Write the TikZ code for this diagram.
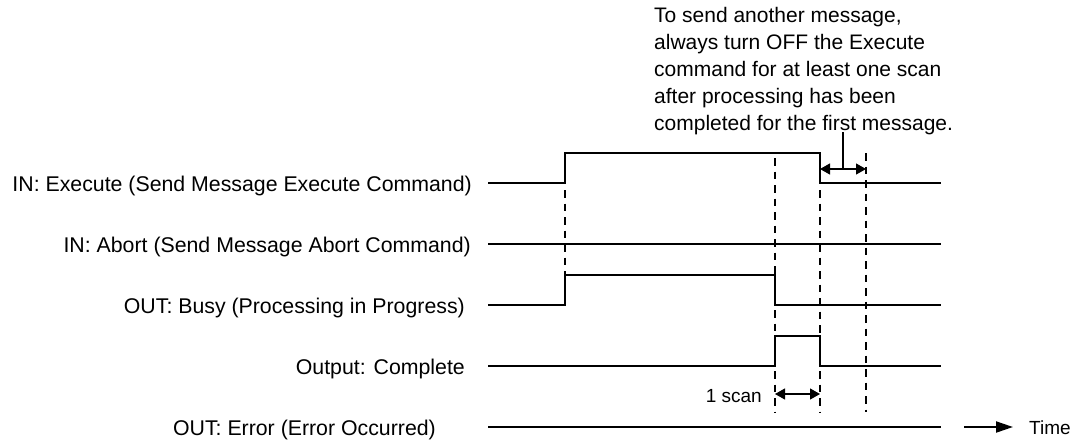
\documentclass[tikz,border=0pt]{standalone}
\usepackage{fontspec}
\setmainfont{Liberation Sans}
\usetikzlibrary{arrows.meta}
\begin{document}
\begin{tikzpicture}[x=1pt,y=-1pt,
  sig/.style={line width=1.2pt, line join=miter},
  guide/.style={line width=1.2pt, dash pattern=on 7.5pt off 6pt},
  lbl/.style={anchor=base east, inner sep=0pt, font=\fontsize{21.3}{26}\selectfont},
  dim/.style={line width=1.2pt, {Triangle[length=10pt,width=11pt]}-{Triangle[length=10pt,width=11pt]}},
  txt/.style={inner sep=0pt, font=\fontsize{21}{27}\selectfont}]
\useasboundingbox (0,0) rectangle (1072,440);

% labels
\node[lbl] (lexe) at (472,191) {IN: Execute (Send Message Execute Command)};
\node[lbl] (labt) at (471,252) {IN: Abort (Send Message Abort Command)};
\node[lbl] (lbsy) at (465,313) {OUT: Busy (Processing in Progress)};
\node[lbl] (lcmp) at (465,374) {Output: Complete};
\node[lbl] (lerr) at (436,435) {OUT: Error (Error Occurred)};

% signals
\draw[sig] (488,183) -- (565,183) -- (565,153) -- (820,153) -- (820,183) -- (941,183);
\draw[sig] (488,244) -- (941,244);
\draw[sig] (488,305) -- (565,305) -- (565,275) -- (775,275) -- (775,305) -- (941,305);
\draw[sig] (488,366) -- (775,366) -- (775,336) -- (820,336) -- (820,366) -- (941,366);
\draw[sig] (488,427) -- (941,427);

% guides
\draw[guide] (565,190) -- (565,275);
\draw[guide] (775,158) -- (775,275);
\draw[guide] (775,310) -- (775,336);
\draw[guide] (775,371) -- (775,412);
\draw[guide] (820,190) -- (820,336);
\draw[guide] (820,371) -- (820,412);
\draw[guide] (866,153) -- (866,412);

% note
\node[txt, anchor=north west, align=left] (note) at (654,7)
  {To send another message,\\always turn OFF the Execute\\command for at least one scan\\after processing has been\\completed for the first message.};
\coordinate (ra) at (820,169);
\coordinate (rb) at (866,169);
\coordinate (rm) at (843,169);
\coordinate (rt) at (843,132);
\draw[dim] (ra) -- (rb);
\draw[line width=1.2pt] (rt) -- (rm);

% 1 scan
\coordinate (sa) at (775,394);
\coordinate (sb) at (820,394);
\draw[dim] (sa) -- (sb);
\node[inner sep=0pt, font=\fontsize{19}{22}\selectfont, anchor=base east] (scan) at (762,402) {1 scan};

% time
\node[inner sep=0pt, font=\fontsize{19}{22}\selectfont, anchor=base west] (time) at (1029,434.5) {Time};
\coordinate (t0) at (964,427);
\coordinate (t1) at (1013,427);
\draw[line width=2pt, -{Triangle[length=17pt,width=11pt]}] (t0) -- (t1);
\end{tikzpicture}
\end{document}
